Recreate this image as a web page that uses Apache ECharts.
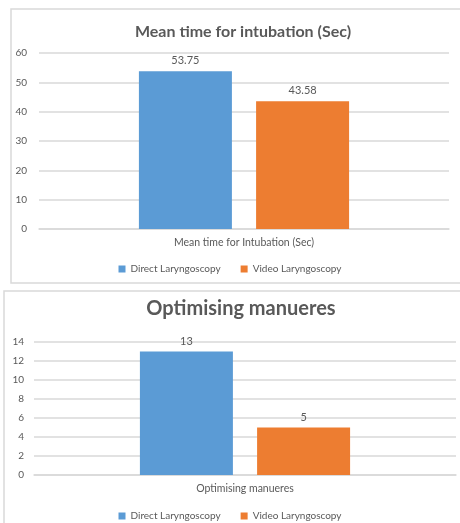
<!DOCTYPE html>
<html>
<head>
<meta charset="utf-8">
<script src="https://cdn.jsdelivr.net/npm/echarts@6/dist/echarts.min.js"></script>
<style>
html, body { margin: 0; padding: 0; background: #fff; }
#chart { width: 460px; height: 523px; }
</style>
</head>
<body>
<div id="chart"></div>
<script>
// values
var seriesNames = ['Direct Laryngoscopy', 'Video Laryngoscopy'];
var colors = ['#5B9BD5', '#ED7D31'];

var titleA = 'Mean time for intubation (Sec)';
var categoryA = ['Mean time for Intubation (Sec)'];
var directA = [53.75];
var videoA = [43.58];

var titleB = 'Optimising manueres';
var categoryB = ['Optimising manueres'];
var directB = [13];
var videoB = [5];

var grey = '#595959';
var font = 'Lato';

function barSeries(name, data, idx, color) {
    return {
        name: name,
        type: 'bar',
        xAxisIndex: idx,
        yAxisIndex: idx,
        data: data,
        barWidth: 93,
        barGap: '26%',
        itemStyle: { color: color },
        label: { show: true, position: 'top', color: grey, fontSize: 11, fontFamily: font },
        emphasis: { disabled: true }
    };
}

function legendAt(top) {
    return {
        data: seriesNames.slice(), top: top, left: 'center',
        itemWidth: 7, itemHeight: 7, itemGap: 20, icon: 'rect',
        textStyle: { color: grey, fontSize: 10, fontFamily: font },
        selectedMode: false
    };
}

var chart = echarts.init(document.getElementById('chart'));
chart.setOption({
    animation: false,
    graphic: [
        { type: 'rect', shape: { x: 11, y: 9, width: 460, height: 274 }, style: { fill: 'none', stroke: '#d9d9d9', lineWidth: 1.5 } },
        { type: 'rect', shape: { x: 4, y: 291, width: 470, height: 250 }, style: { fill: 'none', stroke: '#d9d9d9', lineWidth: 1.5 } }
    ],
    title: [
        { text: titleA, left: 238, top: 19, textAlign: 'center',
          textStyle: { color: grey, fontSize: 16, fontWeight: 'bold', fontFamily: font } },
        { text: titleB, left: 236, top: 294, textAlign: 'center',
          textStyle: { color: grey, fontSize: 20, fontWeight: 'bold', fontFamily: font } }
    ],
    legend: [legendAt(259), legendAt(506)],
    grid: [
        { left: 39, right: 11, top: 53, height: 176 },
        { left: 34, right: 4, top: 342, height: 133 }
    ],
    xAxis: [
        { type: 'category', gridIndex: 0, data: categoryA,
          axisLine: { lineStyle: { color: '#d9d9d9', width: 1.5 } }, axisTick: { show: false },
          axisLabel: { color: grey, fontSize: 10.5, fontFamily: font, margin: 8 } },
        { type: 'category', gridIndex: 1, data: categoryB,
          axisLine: { lineStyle: { color: '#d9d9d9', width: 1.5 } }, axisTick: { show: false },
          axisLabel: { color: grey, fontSize: 10.5, fontFamily: font, margin: 8 } }
    ],
    yAxis: [
        { type: 'value', gridIndex: 0, min: 0, max: 60, interval: 10,
          axisLine: { show: false }, axisTick: { show: false },
          splitLine: { lineStyle: { color: '#d9d9d9', width: 1.5 } },
          axisLabel: { color: grey, fontSize: 10, fontFamily: font, margin: 12 } },
        { type: 'value', gridIndex: 1, min: 0, max: 14, interval: 2,
          axisLine: { show: false }, axisTick: { show: false },
          splitLine: { lineStyle: { color: '#d9d9d9', width: 1.5 } },
          axisLabel: { color: grey, fontSize: 10, fontFamily: font, margin: 10 } }
    ],
    series: [
        barSeries(seriesNames[0], directA, 0, colors[0]),
        barSeries(seriesNames[1], videoA, 0, colors[1]),
        barSeries(seriesNames[0], directB, 1, colors[0]),
        barSeries(seriesNames[1], videoB, 1, colors[1])
    ]
});
</script>
</body>
</html>
